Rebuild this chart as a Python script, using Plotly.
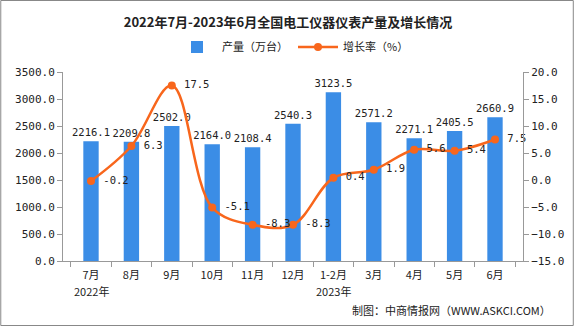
import plotly.graph_objects as go

categories = ["7月", "8月", "9月", "10月", "11月", "12月", "1-2月", "3月", "4月", "5月", "6月"]
year_labels = {"7月": "2022年", "1-2月": "2023年"}
output = [2216.1, 2209.8, 2502.0, 2164.0, 2108.4, 2540.3, 3123.5, 2571.2, 2271.1, 2405.5, 2660.9]
growth = [-0.2, 6.3, 17.5, -5.1, -8.3, -8.3, 0.4, 1.9, 5.6, 5.4, 7.5]

W, H = 576, 326
L, R, T, B = 63, 51, 72, 65
pw, ph = W - L - R, H - T - B

num_font = "DejaVu Sans Mono, Noto Sans CJK SC"
cjk_font = "Noto Sans CJK SC, DejaVu Sans"

fig = go.Figure()
fig.add_trace(go.Bar(
    x=categories, y=output, name="产量（万台）",
    marker=dict(color="#3b8de6", line=dict(width=0)),
    width=0.38,
    text=[f"{v:.1f}" for v in output], textposition="outside",
    constraintext="none",
    textfont=dict(family=num_font, size=10.5, color="#222"),
    cliponaxis=False,
))
fig.add_trace(go.Scatter(
    x=categories, y=growth, name="增长率（%）", yaxis="y2",
    mode="lines+markers+text",
    line=dict(color="#f8661c", width=2.5, shape="spline", smoothing=1.0),
    marker=dict(color="#f8661c", size=8),
    text=[f" {v:.1f}" for v in growth], textposition="middle right",
    textfont=dict(family=num_font, size=10.5, color="#222"),
    cliponaxis=False,
))

fig.update_layout(
    width=W, height=H,
    margin=dict(l=L, r=R, t=T, b=B),
    paper_bgcolor="white", plot_bgcolor="white",
    font=dict(family=cjk_font, size=11, color="#222"),
    title=dict(text="<b>2022年7月-2023年6月全国电工仪器仪表产量及增长情况</b>",
               x=0.5, xanchor="center", y=1 - 22 / H, yanchor="middle",
               font=dict(family=cjk_font, size=13, color="#222")),
    showlegend=True,
    legend=dict(orientation="h", x=0.5, xanchor="center", y=1 + 25 / ph, yanchor="middle",
                font=dict(family=cjk_font, size=11, color="#222"),
                itemwidth=40, bgcolor="rgba(0,0,0,0)"),
    bargap=0.62,
    xaxis=dict(type="category", showline=True, linecolor="#999", linewidth=1,
               ticks="outside", ticklen=5, tickcolor="#999", tickson="boundaries",
               tickangle=0, ticklabelstandoff=4,
               showgrid=False, tickfont=dict(family=cjk_font, size=11, color="#222"),
               fixedrange=True),
    yaxis=dict(range=[0, 3500], dtick=500, tickformat=".1f", showline=True,
               linecolor="#999", linewidth=1, ticks="outside", ticklen=5, tickcolor="#999",
               showgrid=False, zeroline=False,
               tickfont=dict(family=num_font, size=11, color="#222")),
    yaxis2=dict(range=[-15, 20], dtick=5, tickformat=".1f", overlaying="y", side="right",
                showline=True, linecolor="#999", linewidth=1, ticks="outside", ticklen=5,
                tickcolor="#999", showgrid=False, zeroline=False,
                tickfont=dict(family=num_font, size=11, color="#222")),
)

for cat, yr in year_labels.items():
    fig.add_annotation(text=yr, x=cat, xref="x", yref="paper", y=-(291 - T - ph) / ph,
                       yanchor="middle", showarrow=False,
                       font=dict(family=cjk_font, size=11, color="#222"))

fig.add_annotation(text="制图：中商情报网（WWW.ASKCI.COM）", xref="paper", yref="paper",
                   x=(555 - L) / pw, y=-(310 - T - ph) / ph, xanchor="right", yanchor="middle",
                   showarrow=False, font=dict(family=cjk_font, size=11, color="#222"))

fig.add_shape(type="rect", xref="paper", yref="paper",
              x0=-(L - 0.5) / pw, x1=1 + (R - 0.5) / pw,
              y0=-(B - 0.5) / ph, y1=1 + (T - 0.5) / ph,
              line=dict(color="#888", width=1), layer="below")

fig.write_html("out.html")
